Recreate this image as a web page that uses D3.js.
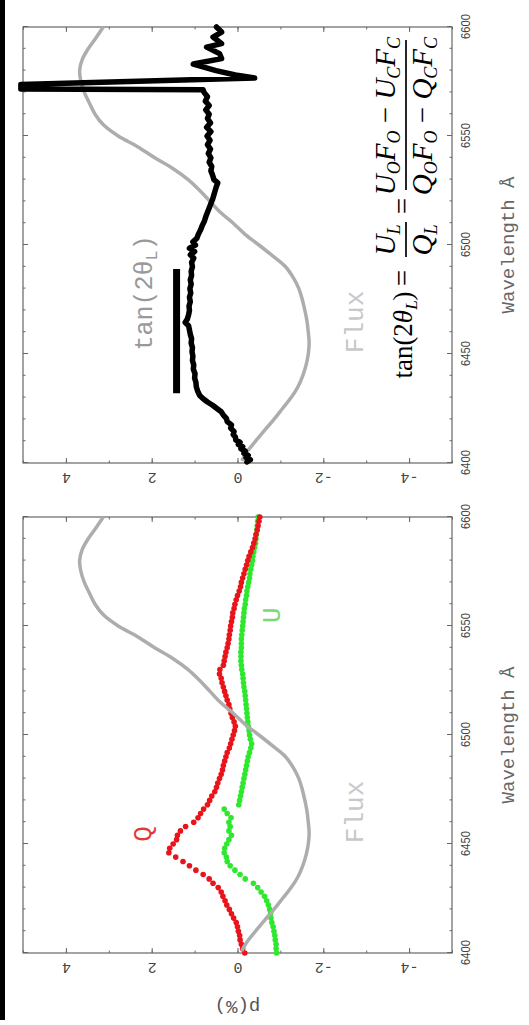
<!DOCTYPE html>
<html>
<head>
<meta charset="utf-8">
<script src="https://cdn.jsdelivr.net/npm/d3@7"></script>
<style>
  body { margin: 0; background: #fff; }
  svg { display: block; }
</style>
</head>
<body>
<svg id="mainsvg" width="529" height="1025"></svg>
<script>
// ---- data ----
// flux profile, same in both panels
const fluxWave = [6401, 6405, 6410, 6415, 6420, 6425, 6430, 6435, 6440, 6445, 6450, 6455, 6460, 6465,
  6470, 6475, 6480, 6485, 6490, 6495, 6500, 6505, 6510, 6515, 6520, 6525, 6530, 6535, 6540,
  6545, 6550, 6555, 6560, 6565, 6570, 6575, 6580, 6585, 6590, 6595, 6600];
const fluxVal = [-0.10, -0.22, -0.42, -0.63, -0.85, -1.05, -1.25, -1.41, -1.52, -1.60, -1.65, -1.67, -1.65, -1.62,
  -1.57, -1.51, -1.43, -1.30, -1.12, -0.82, -0.50, -0.17, 0.10, 0.40, 0.64, 0.88, 1.15, 1.50, 1.93,
  2.32, 2.78, 3.12, 3.32, 3.45, 3.57, 3.65, 3.68, 3.62, 3.48, 3.30, 3.13];

// Q and U, sampled every 2 A from 6400 to 6600
const qVal = [
  -0.17, -0.12, -0.09, -0.06, -0.05, -0.02, 0.00, 0.03, 0.09, 0.14,
  0.19, 0.25, 0.29, 0.34, 0.38, 0.45, 0.57, 0.66, 0.80, 0.97,
  1.12, 1.27, 1.44, 1.60, 1.58, 1.50, 1.42, 1.40, 1.33, 1.21,
  1.02, 0.92, 0.86, 0.79, 0.70, 0.65, 0.60, 0.53, 0.49, 0.46,
  0.42, 0.38, 0.35, 0.33, 0.30, 0.27, 0.24, 0.19, 0.16, 0.13,
  0.10, 0.07, 0.05, 0.08, 0.12, 0.15, 0.18, 0.20, 0.24, 0.27,
  0.30, 0.33, 0.36, 0.38, 0.42, 0.41, 0.33, 0.31, 0.29, 0.27,
  0.24, 0.22, 0.20, 0.19, 0.17, 0.16, 0.14, 0.12, 0.11, 0.08,
  0.06, 0.03, 0.00, -0.04, -0.07, -0.09, -0.12, -0.15, -0.18, -0.21,
  -0.24, -0.27, -0.31, -0.35, -0.38, -0.41, -0.43, -0.46, -0.48, -0.50,
  -0.52];
const uVal = [
  -0.91, -0.90, -0.90, -0.88, -0.87, -0.85, -0.83, -0.80, -0.78, -0.77,
  -0.75, -0.72, -0.68, -0.63, -0.55, -0.47, -0.37, -0.18, -0.06, 0.06,
  0.17, 0.24, 0.26, 0.31, 0.30, 0.25, 0.20, 0.14, 0.20, 0.17,
  0.20, 0.15, 0.24, 0.31, -0.03, -0.05, -0.07, -0.09, -0.11, -0.13,
  -0.15, -0.17, -0.19, -0.21, -0.23, -0.25, -0.28, -0.31, -0.33, -0.30,
  -0.28, -0.27, -0.25, -0.24, -0.23, -0.22, -0.21, -0.20, -0.19, -0.18,
  -0.17, -0.15, -0.14, -0.13, -0.12, -0.10, -0.09, -0.08, -0.08, -0.08,
  -0.09, -0.09, -0.09, -0.10, -0.11, -0.12, -0.13, -0.14, -0.15, -0.16,
  -0.18, -0.19, -0.21, -0.22, -0.24, -0.26, -0.28, -0.29, -0.31, -0.33,
  -0.35, -0.36, -0.38, -0.40, -0.42, -0.43, -0.44, -0.45, -0.46, -0.47,
  -0.48];
const quWave = d3.range(6400, 6601, 2);

// tan(2 theta) curve
const tanWave = [6400.5, 6401.5, 6402.5, 6403.5, 6404.5, 6405.5, 6406.5, 6407.5, 6408.5, 6409.5, 6410.5,
  6412, 6413, 6414.5, 6416, 6417.5, 6419, 6420.5, 6422, 6423.5, 6425, 6426.5, 6428, 6429.5, 6431,
  6433, 6435, 6437, 6439, 6441, 6443, 6445, 6447, 6449, 6451, 6453, 6455, 6457, 6459, 6461, 6463,
  6464.5, 6466, 6468, 6470, 6472, 6474, 6476, 6478, 6480, 6482, 6484, 6486, 6488, 6490, 6492, 6494,
  6495.5, 6497, 6498.5, 6500, 6501.5, 6503, 6505, 6507, 6509, 6511, 6513, 6515, 6517, 6519, 6521,
  6523, 6525, 6527, 6528.5, 6530, 6532, 6534, 6536, 6538, 6540, 6542, 6544, 6546, 6548, 6550, 6552,
  6554, 6556, 6558, 6560, 6562, 6564, 6566, 6568, 6570, 6571.2, 6571.6, 6572.3, 6572.9, 6573.6,
  6576.6, 6578, 6580, 6583, 6585.5, 6587.8, 6590.8, 6592.4, 6595.4, 6597.7, 6600];
const tanVal = [-0.22, -0.30, -0.20, -0.25, -0.15, -0.18, -0.08, -0.12, -0.02, -0.06, 0.04,
  0.05, 0.10, 0.08, 0.16, 0.14, 0.24, 0.26, 0.33, 0.38, 0.48, 0.58, 0.70, 0.80, 0.88,
  0.93, 0.96, 0.97, 1.00, 0.99, 1.03, 1.02, 1.05, 1.04, 1.06, 1.05, 1.08, 1.07, 1.10, 1.12, 1.14,
  1.22, 1.17, 1.14, 1.12, 1.13, 1.10, 1.12, 1.09, 1.11, 1.08, 1.10, 1.07, 1.08, 1.05, 1.07, 1.02,
  1.10, 1.00, 1.12, 0.98, 1.04, 0.95, 0.91, 0.86, 0.82, 0.77, 0.74, 0.70, 0.66, 0.62, 0.58,
  0.55, 0.52, 0.49, 0.46, 0.55, 0.58, 0.62, 0.60, 0.66, 0.62, 0.68, 0.63, 0.70, 0.64, 0.71, 0.62,
  0.72, 0.63, 0.70, 0.66, 0.74, 0.66, 0.75, 0.70, 0.78, 0.80, 5.05, 5.05, 5.05, 5.05,
  -0.40, 0.05, 0.50, 1.03, 0.37, 0.42, 0.72, 0.37, 0.57, 0.37, 0.49];

// mean tan(2 theta) bar
const barWave = [6432, 6489];
const barVal = [1.42, 1.42];

// ticks
const waveMajor = d3.range(6400, 6601, 50);
const waveMinor = d3.range(6400, 6601, 10);
const pMajor = [-4, -2, 0, 2, 4];
const pMinor = d3.range(-5, 6, 1);

// ---- layout ----
const svg = d3.select('#mainsvg');
const W = 436;   // wavelength extent (drawn vertically)
const H = 429;   // p extent (drawn horizontally)
const mono = '"Liberation Mono", "Courier New", monospace';
const serif = '"Liberation Serif", "Times New Roman", serif';

const xScale = d3.scaleLinear().domain([6400, 6600]).range([0, W]);
const yScale = d3.scaleLinear().domain([-5, 5]).range([H, 0]);

svg.append('rect').attr('x', 0).attr('y', 0).attr('width', 5).attr('height', 1020).attr('fill', '#000');

function axisStyle(sel) {
  sel.attr('color', '#666').attr('font-family', null).attr('font-size', null);
  sel.select('.domain').remove();
}

function makePanel(tx, ty, withPLabel) {
  // the whole plot is drawn turned by -90 degrees, as in the picture
  const g = svg.append('g').attr('transform', `translate(${tx}, ${ty}) rotate(-90)`);

  const bottomMinor = g.append('g').attr('transform', `translate(0, ${H})`)
    .call(d3.axisBottom(xScale).tickValues(waveMinor).tickSize(-2.5).tickFormat(''));
  axisStyle(bottomMinor);
  const bottomMajor = g.append('g').attr('transform', `translate(0, ${H})`)
    .call(d3.axisBottom(xScale).tickValues(waveMajor).tickSize(-5).tickFormat(d3.format('d')));
  axisStyle(bottomMajor);
  bottomMajor.selectAll('.tick text')
    .attr('y', 18).attr('dy', 0)
    .attr('font-family', '"Liberation Sans", Arial, sans-serif')
    .attr('font-size', 13)
    .attr('textLength', 25).attr('lengthAdjust', 'spacingAndGlyphs')
    .attr('fill', '#444');

  const topMinor = g.append('g')
    .call(d3.axisTop(xScale).tickValues(waveMinor).tickSize(-2.5).tickFormat(''));
  axisStyle(topMinor);
  const topMajor = g.append('g')
    .call(d3.axisTop(xScale).tickValues(waveMajor).tickSize(-5).tickFormat(''));
  axisStyle(topMajor);

  const leftMinor = g.append('g')
    .call(d3.axisLeft(yScale).tickValues(pMinor).tickSize(-2.5).tickFormat(''));
  axisStyle(leftMinor);
  const leftMajor = g.append('g')
    .call(d3.axisLeft(yScale).tickValues(pMajor).tickSize(-5).tickFormat(d3.format('d')));
  axisStyle(leftMajor);
  leftMajor.selectAll('.tick text')
    .attr('x', 0).attr('y', -10).attr('dy', 0)
    .attr('transform', 'rotate(-90)')
    .attr('text-anchor', 'middle')
    .attr('font-family', mono)
    .attr('font-size', 15)
    .attr('fill', '#444')
    .text(d => d < 0 ? '-' + Math.abs(d) : d);

  const rightMinor = g.append('g').attr('transform', `translate(${W}, 0)`)
    .call(d3.axisRight(yScale).tickValues(pMinor).tickSize(-2.5).tickFormat(''));
  axisStyle(rightMinor);
  const rightMajor = g.append('g').attr('transform', `translate(${W}, 0)`)
    .call(d3.axisRight(yScale).tickValues(pMajor).tickSize(-5).tickFormat(''));
  axisStyle(rightMajor);

  g.append('rect')
    .attr('x', 0).attr('y', 0).attr('width', W).attr('height', H)
    .attr('fill', 'none').attr('stroke', '#666').attr('stroke-width', 1.2);

  g.append('text')
    .attr('x', W / 2).attr('y', H + 62)
    .attr('text-anchor', 'middle')
    .attr('font-family', mono).attr('font-size', 19).attr('fill', '#666')
    .text('Wavelength Å');

  if (withPLabel) {
    g.append('text')
      .attr('transform', `translate(-48, ${yScale(0)}) rotate(-90)`)
      .attr('text-anchor', 'middle')
      .attr('font-family', mono).attr('font-size', 19).attr('fill', '#555')
      .text('p(%)');
  }

  g.append('text')
    .attr('x', xScale(6464.7)).attr('y', yScale(-2.93))
    .attr('text-anchor', 'middle')
    .attr('font-family', mono).attr('font-size', 26).attr('fill', '#c8c8c8')
    .text('Flux');

  return g;
}

const fluxLine = d3.line()
  .x(d => xScale(d[0]))
  .y(d => yScale(d[1]))
  .curve(d3.curveCatmullRom);
const fluxData = fluxWave.map((w, i) => [w, fluxVal[i]]);

// ---- upper panel: tan(2 theta) ----
const gTop = makePanel(23, 463, false);

gTop.append('path')
  .datum(fluxData)
  .attr('d', fluxLine)
  .attr('fill', 'none').attr('stroke', '#adadad').attr('stroke-width', 3.5);

const tanLine = d3.line()
  .x(d => xScale(d[0]))
  .y(d => yScale(d[1]));
gTop.append('path')
  .datum(tanWave.map((w, i) => [w, tanVal[i]]))
  .attr('d', tanLine)
  .attr('fill', 'none').attr('stroke', '#000').attr('stroke-width', 5.5)
  .attr('stroke-linejoin', 'round').attr('stroke-linecap', 'round');

gTop.append('path')
  .datum(barWave.map((w, i) => [w, barVal[i]]))
  .attr('d', tanLine)
  .attr('fill', 'none').attr('stroke', '#000').attr('stroke-width', 7);

const tanLabel = gTop.append('text')
  .attr('x', xScale(6478)).attr('y', yScale(2.0))
  .attr('text-anchor', 'middle')
  .attr('font-family', mono).attr('font-size', 25).attr('fill', '#999');
tanLabel.append('tspan').text('tan(2θ');
tanLabel.append('tspan').attr('font-size', 17).attr('dy', 5).text('L');
tanLabel.append('tspan').attr('dy', -5).text(')');

// formula
const fx = gTop.append('g').attr('transform', 'translate(86, 389)')
  .attr('font-family', serif).attr('font-size', 27).attr('fill', '#000');

function rich(x, y, size, parts) {
  const t = fx.append('text').attr('x', x).attr('y', y)
    .attr('text-anchor', 'middle').attr('font-size', size);
  let shift = 0;
  parts.forEach(p => {
    const s = t.append('tspan').text(p[0]);
    const sub = p[1] && p[1].indexOf('s') >= 0;
    if (p[1] && p[1].indexOf('i') >= 0) s.attr('font-style', 'italic');
    const target = sub ? 5 : 0;
    if (target !== shift) { s.attr('dy', target - shift); shift = target; }
    if (sub) s.attr('font-size', Math.round(size * 0.63));
  });
  return t;
}

rich(42, 0, 27, [['tan(2', ''], ['θ', 'i'], ['L', 'is'], [')', '']]);
rich(99, 0, 29, [['=', '']]);
rich(137, -17, 29, [['U', 'i'], ['L', 'is']]);
rich(137, 20, 29, [['Q', 'i'], ['L', 'is']]);
fx.append('line').attr('x1', 120).attr('x2', 155).attr('y1', -6).attr('y2', -6)
  .attr('stroke', '#000').attr('stroke-width', 1.7);
rich(171, 0, 29, [['=', '']]);
rich(261, -17, 29, [['U', 'i'], ['O', 'is'], ['F', 'i'], ['O', 'is'], [' − ', ''], ['U', 'i'], ['C', 'is'], ['F', 'i'], ['C', 'is']]);
rich(261, 20, 29, [['Q', 'i'], ['O', 'is'], ['F', 'i'], ['O', 'is'], [' − ', ''], ['Q', 'i'], ['C', 'is'], ['F', 'i'], ['C', 'is']]);
fx.append('line').attr('x1', 187).attr('x2', 337).attr('y1', -6).attr('y2', -6)
  .attr('stroke', '#000').attr('stroke-width', 1.7);

// ---- lower panel: Q and U ----
const gBot = makePanel(23, 953, true);

gBot.selectAll('.udot')
  .data(quWave.map((w, i) => [w, uVal[i]]))
  .enter().append('circle')
  .attr('class', 'udot')
  .attr('cx', d => xScale(d[0])).attr('cy', d => yScale(d[1]))
  .attr('r', 2.8).attr('fill', '#2ee82e');

gBot.selectAll('.qdot')
  .data(quWave.map((w, i) => [w, qVal[i]]))
  .enter().append('circle')
  .attr('class', 'qdot')
  .attr('cx', d => xScale(d[0])).attr('cy', d => yScale(d[1]))
  .attr('r', 2.8).attr('fill', '#e8141c');

gBot.append('path')
  .datum(fluxData)
  .attr('d', fluxLine)
  .attr('fill', 'none').attr('stroke', '#adadad').attr('stroke-width', 3.5);

gBot.append('text')
  .attr('x', xScale(6454.6)).attr('y', yScale(2.02))
  .attr('text-anchor', 'middle')
  .attr('font-family', mono).attr('font-size', 26).attr('fill', '#e03a3a')
  .text('Q');

gBot.append('text')
  .attr('x', xScale(6555)).attr('y', yScale(-0.99))
  .attr('text-anchor', 'middle')
  .attr('font-family', mono).attr('font-size', 26).attr('fill', '#7ad87a')
  .text('U');
</script>
</body>
</html>
